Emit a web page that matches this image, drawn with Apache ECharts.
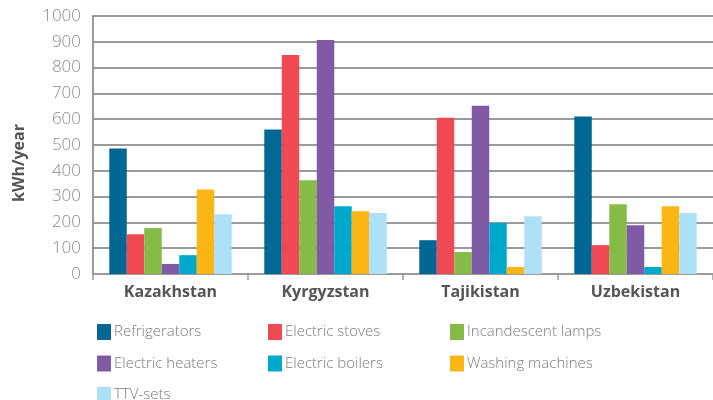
<!DOCTYPE html>
<html>
<head>
<meta charset="utf-8">
<script src="https://cdn.jsdelivr.net/npm/echarts@6/dist/echarts.min.js"></script>
<style>
  html, body { margin: 0; padding: 0; background: #fff; }
  #chart { width: 713px; height: 400px; }
</style>
</head>
<body>
<div id="chart"></div>
<script>
// countries on the x axis
const countries = ["Kazakhstan", "Kyrgyzstan", "Tajikistan", "Uzbekistan"];
const yTicks = [0, 100, 200, 300, 400, 500, 600, 700, 800, 900, 1000];

// kWh/year per appliance, one value per country
const refrigerators = [486, 560, 131, 610];
const electricStoves = [154, 849, 606, 112];
const incandescentLamps = [178, 363, 85, 270];
const electricHeaters = [39, 907, 652, 189];
const electricBoilers = [73, 263, 198, 27];
const washingMachines = [328, 243, 27, 263];
const ttvSets = [232, 236, 224, 236];

const seriesNames = [
  "Refrigerators", "Electric stoves", "Incandescent lamps",
  "Electric heaters", "Electric boilers", "Washing machines", "TTV-sets"
];
const seriesData = [
  refrigerators, electricStoves, incandescentLamps,
  electricHeaters, electricBoilers, washingMachines, ttvSets
];
const colors = ["#006892", "#ef4a54", "#86bb47", "#7f5ba6", "#00a9cb", "#fbb615", "#aee0f8"];

const font = "'Open Sans', 'Noto Sans', sans-serif";

// legend, three columns
function legendCol(left, names) {
  return {
    orient: "vertical",
    left: left,
    top: 317,
    height: 120,
    itemWidth: 14,
    itemHeight: 16,
    itemGap: 11.5,
    icon: "rect",
    data: names,
    textStyle: {
      fontFamily: font, fontSize: 15, color: "#7a7a7a", fontWeight: 300,
      lineHeight: 20, padding: [0, 0, 0, -2],
    },
  };
}

const chart = echarts.init(document.getElementById("chart"));
chart.setOption({
  animation: false,
  color: colors,
  grid: { left: 93, right: 0, top: 16, bottom: 126 },
  legend: [
    legendCol(92, ["Refrigerators", "Electric heaters", "TTV-sets"]),
    legendCol(263, ["Electric stoves", "Electric boilers"]),
    legendCol(445, ["Incandescent lamps", "Washing machines"]),
  ],
  graphic: [
    {
      type: "text",
      left: 11,
      top: 124,
      rotation: Math.PI / 2,
      style: {
        text: "kWh/year",
        fontFamily: font,
        fontSize: 16,
        fontWeight: "bold",
        fill: "#555",
      },
    },
  ],
  xAxis: {
    type: "category",
    data: countries,
    axisLine: { lineStyle: { color: "#9a9a9a", width: 2 } },
    axisTick: { show: true, length: 6, lineStyle: { color: "#9a9a9a", width: 1.5 } },
    axisLabel: {
      margin: 10,
      fontFamily: font,
      fontSize: 16,
      fontWeight: "bold",
      color: "#555",
    },
  },
  yAxis: {
    type: "value",
    min: yTicks[0],
    max: yTicks[yTicks.length - 1],
    interval: 100,
    axisLine: { show: true, lineStyle: { color: "#9a9a9a", width: 2 } },
    axisTick: { show: false },
    axisLabel: {
      margin: 12,
      fontFamily: font,
      fontSize: 17,
      fontWeight: 300,
      color: "#8a8a8a",
      formatter: (v) => String(v),
    },
    splitLine: { lineStyle: { color: "#9a9a9a", width: 2 } },
  },
  series: seriesNames.map((name, i) => ({
    name: name,
    type: "bar",
    data: seriesData[i],
    barGap: "0%",
    barCategoryGap: "21%",
  })),
});
</script>
</body>
</html>
